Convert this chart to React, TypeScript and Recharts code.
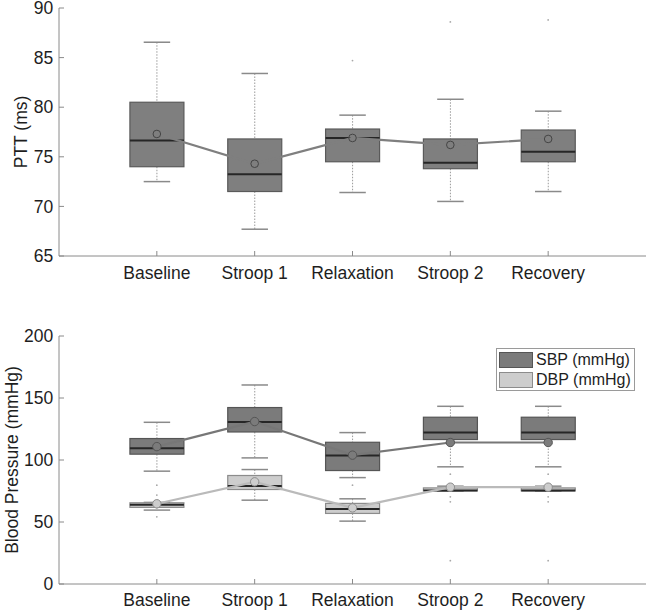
import React from 'react';
import { Bar, ComposedChart, Legend, Line, Scatter, XAxis, YAxis } from 'recharts';

const phases = ['Baseline', 'Stroop 1', 'Relaxation', 'Stroop 2', 'Recovery'];
const phaseX = [1, 2, 3, 4, 5];

// PTT (ms) box stats
const pttLow = [72.5, 67.7, 71.4, 70.5, 71.5];
const pttQ1 = [74.0, 71.5, 74.5, 73.8, 74.5];
const pttMed = [76.65, 73.25, 76.9, 74.4, 75.5];
const pttQ3 = [80.5, 76.8, 77.8, 76.8, 77.7];
const pttHigh = [86.55, 83.4, 79.2, 80.8, 79.6];
const pttMean = [77.3, 74.3, 76.9, 76.2, 76.8];
const pttOutPhase = [3, 4, 5];
const pttOutValue = [84.7, 88.6, 88.8];
const pttTicks = [65, 70, 75, 80, 85, 90];

// SBP (mmHg)
const sbpLow = [91, 101.7, 85.8, 94.5, 94.5];
const sbpQ1 = [104.7, 122.6, 91.5, 116.5, 116.5];
const sbpMed = [109.5, 130.7, 103.6, 122.1, 122.1];
const sbpQ3 = [117.3, 142.3, 114.3, 134.5, 134.5];
const sbpHigh = [130.4, 160.5, 122.1, 143.3, 143.3];
const sbpMean = [110.8, 131, 103.9, 114.1, 114.1];

// DBP (mmHg)
const dbpLow = [59.6, 67.6, 50.7, 74.8, 74.8];
const dbpQ1 = [61.8, 76.2, 56.9, 75.1, 75.1];
const dbpMed = [63.9, 79.1, 60.4, 75.5, 75.5];
const dbpQ3 = [65.5, 87.5, 65.0, 77.5, 77.5];
const dbpHigh = [65.8, 92.3, 68.7, 78.9, 78.9];
const dbpMean = [64.7, 82.4, 61.4, 78.1, 78.1];
const bpOutPhase = [1, 1, 1, 3, 4, 4, 4, 4, 5, 5, 5, 5];
const bpOutValue = [79.7, 71.7, 54.2, 79.7, 88.6, 70.3, 66.3, 18.8, 88.6, 70.3, 66.3, 18.8];
const bpTicks = [0, 50, 100, 150, 200];

const bpSeries = [
  { name: 'SBP (mmHg)', fill: '#7b7b7b', edge: '#555555', line: '#777777' },
  { name: 'DBP (mmHg)', fill: '#cdcdcd', edge: '#8c8c8c', line: '#bababa' },
];

const pttRows = phaseX.map((x, i) => ({
  x,
  low: pttLow[i],
  q1: pttQ1[i],
  med: pttMed[i],
  q3: pttQ3[i],
  high: pttHigh[i],
  mean: pttMean[i],
}));

const bpRows = phaseX.map((x, i) => ({
  x,
  sLow: sbpLow[i],
  sQ1: sbpQ1[i],
  sMed: sbpMed[i],
  sQ3: sbpQ3[i],
  sHigh: sbpHigh[i],
  sMean: sbpMean[i],
  dLow: dbpLow[i],
  dQ1: dbpQ1[i],
  dMed: dbpMed[i],
  dQ3: dbpQ3[i],
  dHigh: dbpHigh[i],
  dMean: dbpMean[i],
}));

const pttOutRows = pttOutPhase.map((x, i) => ({ x, y: pttOutValue[i] }));
const bpOutRows = bpOutPhase.map((x, i) => ({ x, y: bpOutValue[i] }));

const font = '"Liberation Sans", Arial, Helvetica, sans-serif';
const axisColor = '#8a8a8a';
const textColor = '#1e1e1e';
const tickFont = { fontSize: 17.5, fill: textColor, fontFamily: font };

function boxShape(keys: string[], fill: string, edge: string) {
  const [kLow, kQ1, kMed, kQ3, kHigh] = keys;
  return (props: any) => {
    const { x, y, width, height, payload } = props;
    const lo = payload[kLow];
    const hi = payload[kHigh];
    const top = Math.min(y, y + height);
    const bot = Math.max(y, y + height);
    // map a value to pixels using the bar's own scaled range
    const py = (v: number) => top + ((hi - v) / (hi - lo)) * (bot - top);
    const cx = x + width / 2;
    const cap = width * 0.245;
    const yq3 = py(payload[kQ3]);
    const yq1 = py(payload[kQ1]);
    const ym = py(payload[kMed]);
    return (
      <g>
        <line x1={cx} x2={cx} y1={top} y2={yq3} stroke="#9a9a9a" strokeDasharray="1.5 1.5" />
        <line x1={cx} x2={cx} y1={yq1} y2={bot} stroke="#9a9a9a" strokeDasharray="1.5 1.5" />
        <line x1={cx - cap} x2={cx + cap} y1={top} y2={top} stroke="#8a8a8a" strokeWidth={1.5} />
        <line x1={cx - cap} x2={cx + cap} y1={bot} y2={bot} stroke="#8a8a8a" strokeWidth={1.5} />
        <rect x={x} y={yq3} width={width} height={Math.max(yq1 - yq3, 1)} fill={fill} stroke={edge} strokeWidth={1.2} />
        <line x1={x} x2={x + width} y1={ym} y2={ym} stroke="#262626" strokeWidth={2} />
      </g>
    );
  };
}

const openMean = (props: any) => (
  <circle cx={props.cx} cy={props.cy} r={3.8} fill="none" stroke="#444" strokeWidth={1} />
);

const filledMean = (fill: string, edge: string) => (props: any) => (
  <circle cx={props.cx} cy={props.cy} r={4.2} fill={fill} stroke={edge} strokeWidth={1} />
);

const outlierDot = (props: any) => <circle cx={props.cx} cy={props.cy} r={0.9} fill="#a8a8a8" />;

const blank = () => '';

const renderLegend = () => (
  <div
    style={{
      boxSizing: 'border-box',
      width: 139,
      height: 43,
      border: '1px solid #9a9a9a',
      background: '#fff',
      padding: '1px 2px',
      fontFamily: font,
      whiteSpace: 'nowrap',
    }}
  >
    {bpSeries.map((s) => (
      <div key={s.name} style={{ display: 'flex', alignItems: 'center', height: 20, gap: 3 }}>
        <span
          style={{
            display: 'inline-block',
            flexShrink: 0,
            boxSizing: 'border-box',
            width: 34,
            height: 16,
            background: s.fill,
            border: `1px solid ${s.edge}`,
          }}
        />
        <span style={{ flexShrink: 0, fontSize: 16, color: textColor, lineHeight: '20px' }}>{s.name}</span>
      </div>
    ))}
  </div>
);

function PttChart() {
  return (
    <ComposedChart width={649} height={300} data={pttRows} margin={{ top: 8, right: 3, bottom: 0, left: 0 }}>
      <XAxis
        xAxisId="x"
        dataKey="x"
        type="number"
        domain={[0, 6]}
        ticks={phaseX}
        allowDataOverflow
        tickFormatter={(v: number) => phases[v - 1]}
        height={44}
        tickSize={-5}
        tickMargin={15.5}
        stroke={axisColor}
        tick={tickFont}
        interval={0}
      />
      <XAxis
        xAxisId="xt"
        orientation="top"
        type="number"
        domain={[0, 6]}
        ticks={phaseX}
        allowDataOverflow
        tickFormatter={blank}
        height={0}
        tickSize={-5}
        stroke={axisColor}
        interval={0}
      />
      <YAxis
        yAxisId="y"
        type="number"
        domain={[65, 90]}
        ticks={pttTicks}
        allowDataOverflow
        width={59}
        tickSize={-5}
        tickMargin={10.7}
        stroke={axisColor}
        tick={tickFont}
        interval={0}
        label={{
          value: 'PTT (ms)',
          angle: -90,
          position: 'center',
          dx: -8.5,
          style: { fontSize: 17.5, fill: textColor, fontFamily: font },
        }}
      />
      <YAxis
        yAxisId="yr"
        orientation="right"
        type="number"
        domain={[65, 90]}
        ticks={pttTicks}
        allowDataOverflow
        width={0}
        tickSize={-5}
        tickFormatter={blank}
        stroke={axisColor}
        interval={0}
      />
      <Line
        xAxisId="x"
        yAxisId="y"
        dataKey="mean"
        stroke="#7f7f7f"
        strokeWidth={2.2}
        dot={false}
        isAnimationActive={false}
      />
      <Bar
        xAxisId="x"
        yAxisId="y"
        dataKey={(r: any) => [r.low, r.high]}
        barSize={54}
        shape={boxShape(['low', 'q1', 'med', 'q3', 'high'], '#7f7f7f', '#5a5a5a')}
        isAnimationActive={false}
      />
      <Scatter xAxisId="x" yAxisId="y" data={pttOutRows} dataKey="y" shape={outlierDot} isAnimationActive={false} />
      <Scatter xAxisId="x" yAxisId="y" data={pttRows} dataKey="mean" shape={openMean} isAnimationActive={false} />
    </ComposedChart>
  );
}

function BpChart() {
  const [sbp, dbp] = bpSeries;
  return (
    <ComposedChart width={649} height={314} data={bpRows} margin={{ top: 36, right: 3, bottom: 0, left: 0 }}>
      <XAxis
        xAxisId="x"
        dataKey="x"
        type="number"
        domain={[0, 6]}
        ticks={phaseX}
        allowDataOverflow
        tickFormatter={(v: number) => phases[v - 1]}
        height={30}
        tickSize={-5}
        tickMargin={15}
        stroke={axisColor}
        tick={tickFont}
        interval={0}
      />
      <XAxis xAxisId="xd" dataKey="x" type="number" domain={[0, 6]} ticks={phaseX} allowDataOverflow hide />
      <XAxis
        xAxisId="xt"
        orientation="top"
        type="number"
        domain={[0, 6]}
        ticks={phaseX}
        allowDataOverflow
        tickFormatter={blank}
        height={0}
        tickSize={-5}
        stroke={axisColor}
        interval={0}
      />
      <YAxis
        yAxisId="y"
        type="number"
        domain={[0, 200]}
        ticks={bpTicks}
        allowDataOverflow
        width={59}
        tickSize={-5}
        tickMargin={10.7}
        stroke={axisColor}
        tick={tickFont}
        interval={0}
        label={{
          value: 'Blood Pressure (mmHg)',
          angle: -90,
          position: 'center',
          dx: -17.5,
          style: { fontSize: 17.5, fill: textColor, fontFamily: font },
        }}
      />
      <YAxis
        yAxisId="yr"
        orientation="right"
        type="number"
        domain={[0, 200]}
        ticks={bpTicks}
        allowDataOverflow
        width={0}
        tickSize={-5}
        tickFormatter={blank}
        stroke={axisColor}
        interval={0}
      />
      <Line xAxisId="x" yAxisId="y" dataKey="sMean" stroke={sbp.line} strokeWidth={2.2} dot={false} isAnimationActive={false} />
      <Line xAxisId="x" yAxisId="y" dataKey="dMean" stroke={dbp.line} strokeWidth={2.2} dot={false} isAnimationActive={false} />
      <Bar
        xAxisId="x"
        yAxisId="y"
        dataKey={(r: any) => [r.sLow, r.sHigh]}
        barSize={54}
        shape={boxShape(['sLow', 'sQ1', 'sMed', 'sQ3', 'sHigh'], sbp.fill, sbp.edge)}
        isAnimationActive={false}
      />
      <Bar
        xAxisId="xd"
        yAxisId="y"
        dataKey={(r: any) => [r.dLow, r.dHigh]}
        barSize={54}
        shape={boxShape(['dLow', 'dQ1', 'dMed', 'dQ3', 'dHigh'], dbp.fill, dbp.edge)}
        isAnimationActive={false}
      />
      <Scatter xAxisId="x" yAxisId="y" data={bpOutRows} dataKey="y" shape={outlierDot} isAnimationActive={false} />
      <Scatter xAxisId="x" yAxisId="y" data={bpRows} dataKey="sMean" shape={filledMean(sbp.fill, sbp.edge)} isAnimationActive={false} />
      <Scatter xAxisId="x" yAxisId="y" data={bpRows} dataKey="dMean" shape={filledMean(dbp.fill, dbp.edge)} isAnimationActive={false} />
      <Legend
        layout="vertical"
        align="center"
        verticalAlign="middle"
        content={renderLegend}
        wrapperStyle={{ left: 496, top: 48, width: 139, height: 43 }}
      />
    </ComposedChart>
  );
}

export default function App() {
  return (
    <div style={{ position: 'absolute', left: 0, top: 0, width: 649, height: 614, background: '#fff', fontFamily: font }}>
      <div style={{ position: 'absolute', left: 0, top: 0 }}>
        <PttChart />
      </div>
      <div style={{ position: 'absolute', left: 0, top: 300 }}>
        <BpChart />
      </div>
    </div>
  );
}
